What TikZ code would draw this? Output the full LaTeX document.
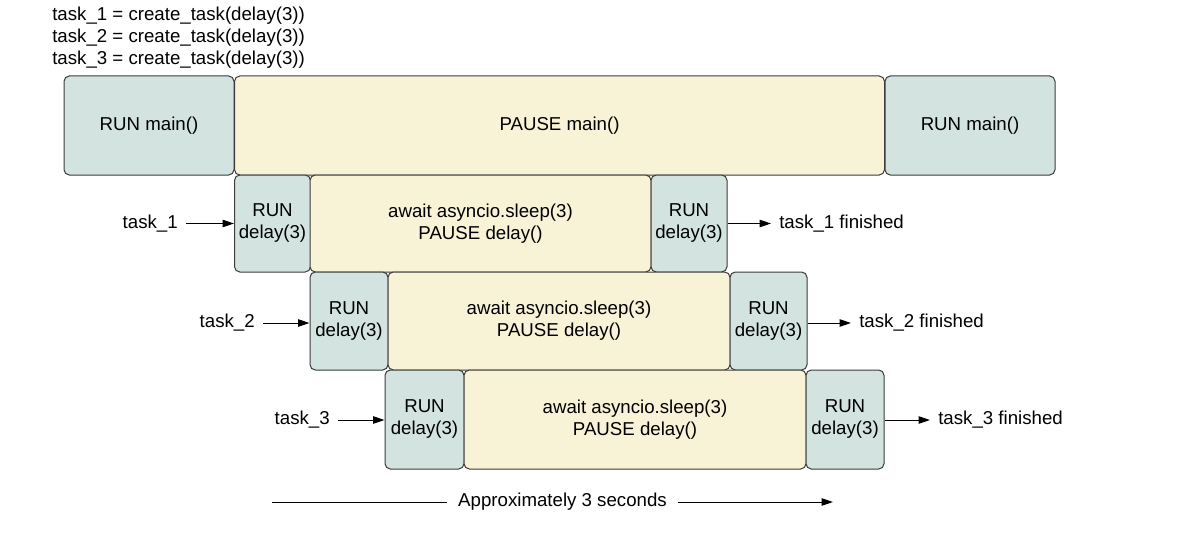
\documentclass[tikz,border=0pt]{standalone}
\usepackage{fontspec}
\setmainfont{Liberation Sans}
\usetikzlibrary{positioning,arrows.meta}

\definecolor{runfill}{RGB}{211,227,223}
\definecolor{pausefill}{RGB}{248,242,214}
\definecolor{boxline}{RGB}{60,60,60}

\tikzset{
  wh/.style 2 args={minimum width=#1*0.75pt, minimum height=#2*0.75pt},
  blk/.style={draw=boxline, line width=0.75pt, rounded corners=4pt, inner sep=0pt, align=center},
  runblk/.style={blk, fill=runfill},
  pauseblk/.style={blk, fill=pausefill},
  lbl/.style={inner xsep=6pt, inner ysep=0pt},
  arr/.style={-{Triangle[length=8.5pt,width=5.5pt]}, line width=0.75pt}
}

\begin{document}
\begin{tikzpicture}[x=0.75pt, y=-0.75pt, font=\fontsize{14}{16.5}\selectfont]
        \fill[white] (0,0) rectangle (1177,542);
        \useasboundingbox (0,0) rectangle (1177,542);

        % Task creation code
        \node[anchor=west, align=left, inner sep=0pt] (code) at (52,38)
          {task\_1 = create\_task(delay(3))\\task\_2 = create\_task(delay(3))\\task\_3 = create\_task(delay(3))};

        % main() timeline
        \node[runblk, wh={170}{99}] (runA) at (149,125.5) {RUN main()};
        \node[pauseblk, wh={650}{99}] (pause) at (559.5,125.5) {PAUSE main()};
        \node[runblk, wh={170}{99}] (runB) at (970,125.5) {RUN main()};

        % task_1
        \node[runblk, wh={76}{97}] (r1a) at (272.5,223.5) {RUN\\delay(3)};
        \node[pauseblk, wh={341}{97}] (w1) at (480.5,223.5) {await asyncio.sleep(3)\\PAUSE delay()};
        \node[runblk, wh={76}{97}] (r1b) at (689,223.5) {RUN\\delay(3)};
        \node[lbl, anchor=east] (t1) at (186,223.5) {task\_1};
        \node[lbl, anchor=west] (f1) at (771,223.5) {task\_1 finished};

        % task_2
        \node[runblk, wh={78}{98}] (r2a) at (349,321) {RUN\\delay(3)};
        \node[pauseblk, wh={342}{98}] (w2) at (559,321) {await asyncio.sleep(3)\\PAUSE delay()};
        \node[runblk, wh={77}{98}] (r2b) at (768.5,321) {RUN\\delay(3)};
        \node[lbl, anchor=east] (t2) at (263,323) {task\_2};
        \node[lbl, anchor=west] (f2) at (851,323) {task\_2 finished};

        % task_3
        \node[runblk, wh={79}{99}] (r3a) at (424.5,419.5) {RUN\\delay(3)};
        \node[pauseblk, wh={342}{99}] (w3) at (635,419.5) {await asyncio.sleep(3)\\PAUSE delay()};
        \node[runblk, wh={78}{99}] (r3b) at (845,419.5) {RUN\\delay(3)};
        \node[lbl, anchor=east] (t3) at (338,420) {task\_3};
        \node[lbl, anchor=west] (f3) at (930,420) {task\_3 finished};

        % Draw arrows
        \draw[arr] (t1) -- (t1 -| r1a.west);
        \draw[arr] (r1b.east |- f1) -- (f1);
        \draw[arr] (t2) -- (t2 -| r2a.west);
        \draw[arr] (r2b.east |- f2) -- (f2);
        \draw[arr] (t3) -- (t3 -| r3a.west);
        \draw[arr] (r3b.east |- f3) -- (f3);

        % Duration
        \node[inner xsep=8pt] (approx) at (562.5,502) {Approximately 3 seconds};
        \coordinate (spanL) at (272,502);
        \coordinate (spanR) at (833,502);
        \draw[line width=0.75pt] (spanL) -- (approx);
        \draw[arr] (approx) -- (spanR);
      \end{tikzpicture}
\end{document}
